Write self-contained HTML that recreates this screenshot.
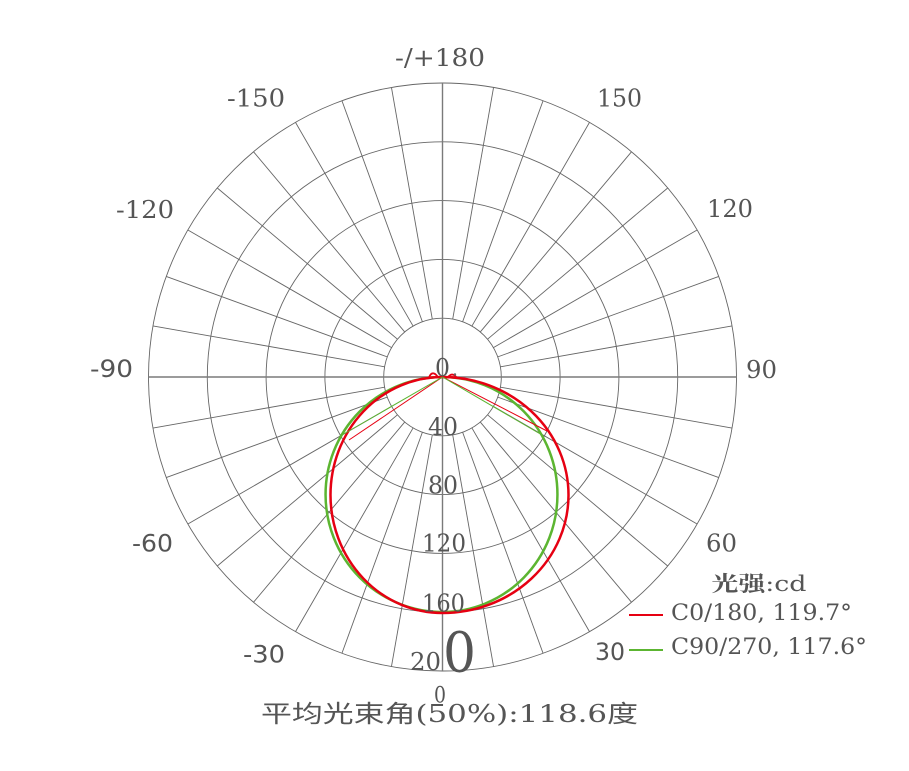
<!DOCTYPE html>
<html>
<head>
<meta charset="utf-8">
<style>
  html,body{margin:0;padding:0;background:#fff;}
  svg{display:block;}
  .t{font-family:"DejaVu Serif","Liberation Serif",serif;fill:#555;}
  .s{font-family:"DejaVu Sans","Liberation Sans",sans-serif;fill:#555;}
</style>
</head>
<body>
<svg width="909" height="771" viewBox="0 0 909 771" xmlns="http://www.w3.org/2000/svg">
  <rect width="909" height="771" fill="#fff"/>
  <g transform="translate(442.5,377)" fill="none" stroke="#666" stroke-width="0.9">
    <circle r="58.8"/>
    <circle r="117.6"/>
    <circle r="176.4"/>
    <circle r="235.2"/>
    <circle r="294"/>
    <g>
      <line x1="0" y1="58.8" x2="0" y2="294" transform="rotate(10)"/>
      <line x1="0" y1="58.8" x2="0" y2="294" transform="rotate(20)"/>
      <line x1="0" y1="58.8" x2="0" y2="294" transform="rotate(30)"/>
      <line x1="0" y1="58.8" x2="0" y2="294" transform="rotate(40)"/>
      <line x1="0" y1="58.8" x2="0" y2="294" transform="rotate(50)"/>
      <line x1="0" y1="58.8" x2="0" y2="294" transform="rotate(60)"/>
      <line x1="0" y1="58.8" x2="0" y2="294" transform="rotate(70)"/>
      <line x1="0" y1="58.8" x2="0" y2="294" transform="rotate(80)"/>
      <line x1="0" y1="58.8" x2="0" y2="294" transform="rotate(100)"/>
      <line x1="0" y1="58.8" x2="0" y2="294" transform="rotate(110)"/>
      <line x1="0" y1="58.8" x2="0" y2="294" transform="rotate(120)"/>
      <line x1="0" y1="58.8" x2="0" y2="294" transform="rotate(130)"/>
      <line x1="0" y1="58.8" x2="0" y2="294" transform="rotate(140)"/>
      <line x1="0" y1="58.8" x2="0" y2="294" transform="rotate(150)"/>
      <line x1="0" y1="58.8" x2="0" y2="294" transform="rotate(160)"/>
      <line x1="0" y1="58.8" x2="0" y2="294" transform="rotate(170)"/>
      <line x1="0" y1="58.8" x2="0" y2="294" transform="rotate(190)"/>
      <line x1="0" y1="58.8" x2="0" y2="294" transform="rotate(200)"/>
      <line x1="0" y1="58.8" x2="0" y2="294" transform="rotate(210)"/>
      <line x1="0" y1="58.8" x2="0" y2="294" transform="rotate(220)"/>
      <line x1="0" y1="58.8" x2="0" y2="294" transform="rotate(230)"/>
      <line x1="0" y1="58.8" x2="0" y2="294" transform="rotate(240)"/>
      <line x1="0" y1="58.8" x2="0" y2="294" transform="rotate(250)"/>
      <line x1="0" y1="58.8" x2="0" y2="294" transform="rotate(260)"/>
      <line x1="0" y1="58.8" x2="0" y2="294" transform="rotate(280)"/>
      <line x1="0" y1="58.8" x2="0" y2="294" transform="rotate(290)"/>
      <line x1="0" y1="58.8" x2="0" y2="294" transform="rotate(300)"/>
      <line x1="0" y1="58.8" x2="0" y2="294" transform="rotate(310)"/>
      <line x1="0" y1="58.8" x2="0" y2="294" transform="rotate(320)"/>
      <line x1="0" y1="58.8" x2="0" y2="294" transform="rotate(330)"/>
      <line x1="0" y1="58.8" x2="0" y2="294" transform="rotate(340)"/>
      <line x1="0" y1="58.8" x2="0" y2="294" transform="rotate(350)"/>
    </g>
    <line x1="-294" y1="0" x2="294" y2="0" stroke="#7a7a7a" stroke-width="1.4"/>
    <line x1="0" y1="-294" x2="0" y2="294" stroke="#7a7a7a" stroke-width="1.4"/>
  </g>

  <!-- curves -->
  <path d="M 442.5 377 A 115 117.5 0 0 1 442.5 612 A 117 117.5 0 0 1 442.5 377 Z" fill="none" stroke="#5cb531" stroke-width="2.5"/>
  <path d="M 442.5 377 A 126 118 0 0 1 442.5 613 A 112 118 0 0 1 442.5 377 Z" fill="none" stroke="#e60012" stroke-width="2.5"/>
  <path d="M 429 377.5 Q 431 372.5 434 373.5 Q 436.5 374.5 437.5 377" fill="none" stroke="#e60012" stroke-width="1.8"/>
  <path d="M 448 377 Q 451 373.5 454 375 Q 455.5 376 456.5 377.5" fill="none" stroke="#e60012" stroke-width="1.8"/>
  <line x1="442.5" y1="377" x2="349" y2="440" stroke="#e60012" stroke-width="1"/>
  <line x1="442.5" y1="377" x2="547" y2="431" stroke="#e60012" stroke-width="1"/>
  <line x1="442.5" y1="377" x2="342" y2="435" stroke="#5cb531" stroke-width="1"/>
  <line x1="442.5" y1="377" x2="542" y2="435" stroke="#5cb531" stroke-width="1"/>

  <!-- angle labels -->
  <text class="t" x="395" y="66" font-size="24" textLength="90" lengthAdjust="spacingAndGlyphs">-/+180</text>
  <text class="t" x="597" y="106.5" font-size="24" textLength="45" lengthAdjust="spacingAndGlyphs">150</text>
  <text class="t" x="227" y="106.5" font-size="24" textLength="58" lengthAdjust="spacingAndGlyphs">-150</text>
  <text class="t" x="707" y="217" font-size="24" textLength="46" lengthAdjust="spacingAndGlyphs">120</text>
  <text class="t" x="116" y="218" font-size="24" textLength="58" lengthAdjust="spacingAndGlyphs">-120</text>
  <text class="t" x="746" y="378" font-size="24" textLength="31" lengthAdjust="spacingAndGlyphs">90</text>
  <text class="s" x="90" y="377" font-size="24" textLength="43" lengthAdjust="spacingAndGlyphs">-90</text>
  <text class="t" x="706" y="551.5" font-size="24" textLength="31" lengthAdjust="spacingAndGlyphs">60</text>
  <text class="s" x="132" y="551.5" font-size="24" textLength="41" lengthAdjust="spacingAndGlyphs">-60</text>
  <text class="s" x="595" y="660" font-size="24" textLength="30" lengthAdjust="spacingAndGlyphs">30</text>
  <text class="s" x="243" y="662.5" font-size="24" textLength="42" lengthAdjust="spacingAndGlyphs">-30</text>

  <!-- scale labels -->
  <text class="t" x="435" y="376" font-size="24" textLength="15" lengthAdjust="spacingAndGlyphs">0</text>
  <circle cx="455" cy="374.5" r="1.2" fill="#666"/>
  <text class="t" x="428" y="435" font-size="24" textLength="30" lengthAdjust="spacingAndGlyphs">40</text>
  <text class="t" x="428" y="493.5" font-size="24" textLength="30" lengthAdjust="spacingAndGlyphs">80</text>
  <text class="t" x="422" y="551.5" font-size="24" textLength="44" lengthAdjust="spacingAndGlyphs">120</text>
  <text class="t" x="422" y="611.5" font-size="24" textLength="43" lengthAdjust="spacingAndGlyphs">160</text>
  <text class="t" x="410" y="670" font-size="24" textLength="31" lengthAdjust="spacingAndGlyphs">20</text>
  <text class="t" x="443" y="671.5" font-size="55" textLength="33" lengthAdjust="spacingAndGlyphs">0</text>
  <text class="t" x="434" y="702.5" font-size="22" textLength="12" lengthAdjust="spacingAndGlyphs">0</text>

  <!-- legend -->
  <text x="711.5" y="591" font-size="21" fill="#555" font-family="'DejaVu Serif','Noto Serif CJK SC',serif" textLength="95" lengthAdjust="spacingAndGlyphs"><tspan font-weight="bold">光强</tspan>:cd</text>
  <line x1="629" y1="615" x2="663" y2="615" stroke="#e60012" stroke-width="2"/>
  <text class="t" x="671" y="620" font-size="22" textLength="181" lengthAdjust="spacingAndGlyphs">C0/180, 119.7°</text>
  <line x1="629" y1="650" x2="663" y2="650" stroke="#5cb531" stroke-width="2"/>
  <text class="t" x="671" y="654" font-size="22" textLength="196" lengthAdjust="spacingAndGlyphs">C90/270, 117.6°</text>

  <!-- title -->
  <text x="261" y="722" font-size="24" fill="#555" font-family="'DejaVu Serif','Noto Sans CJK SC',sans-serif" textLength="377" lengthAdjust="spacingAndGlyphs">平均光束角(50%):118.6度</text>
</svg>
</body>
</html>
